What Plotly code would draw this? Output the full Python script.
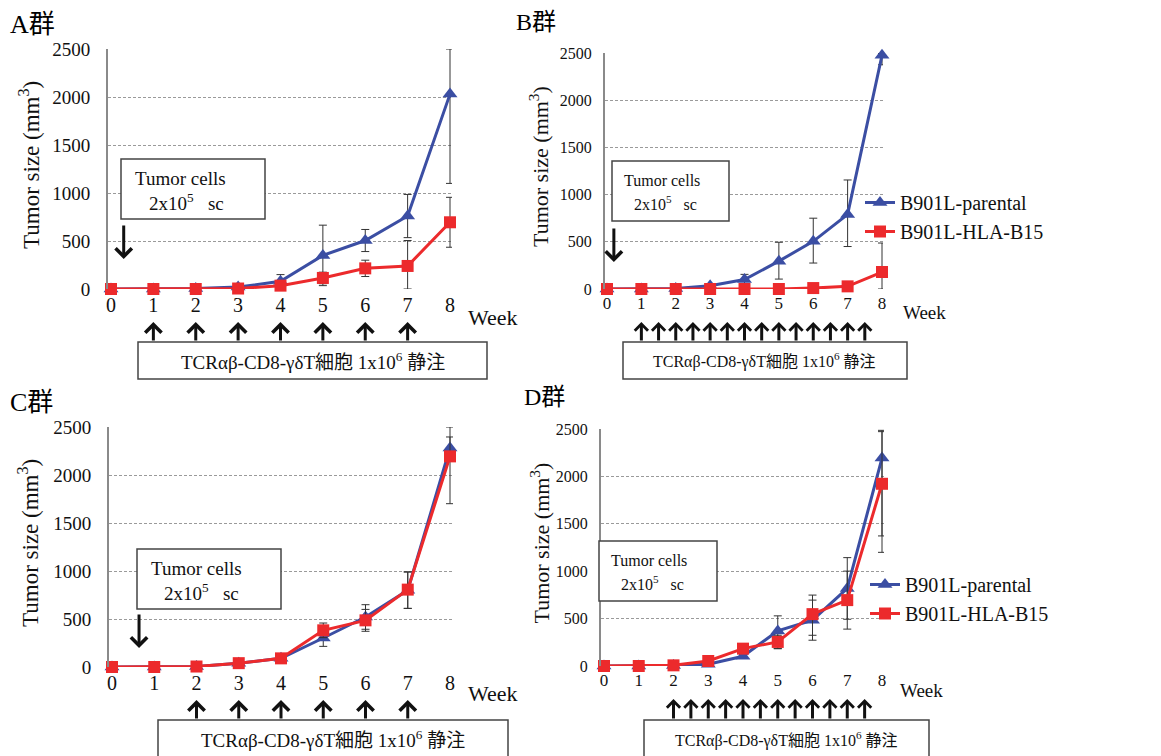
import plotly.graph_objects as go

W, H = 1161, 756
FONT = "Liberation Serif, Noto Sans CJK JP, serif"

# ---------------- data ----------------
weeks = [0, 1, 2, 3, 4, 5, 6, 7, 8]
yticks = [0, 500, 1000, 1500, 2000, 2500]
series_names = ["B901L-parental", "B901L-HLA-B15"]

# Group A
A_par = [0, 0, 5, 20, 80, 350, 505, 760, 2030]
A_par_up = [0, 0, 0, 10, 70, 315, 115, 225, 470]
A_par_dn = [0, 0, 0, 10, 70, 315, 115, 225, 930]
A_hla = [0, 0, 0, 5, 35, 115, 215, 240, 695]
A_hla_up = [0, 0, 0, 0, 10, 60, 85, 265, 260]
A_hla_dn = [0, 0, 0, 0, 10, 60, 85, 240, 260]

# Group B
B_par = [0, 0, 5, 35, 100, 295, 505, 790, 2475]
B_par_up = [0, 0, 0, 10, 55, 200, 245, 365, 20]
B_par_dn = [0, 0, 0, 10, 55, 190, 230, 340, 100]
B_hla = [0, 0, 0, 0, 0, 0, 10, 28, 180]
B_hla_up = [0, 0, 0, 0, 0, 0, 5, 10, 307]
B_hla_dn = [0, 0, 0, 0, 0, 0, 5, 10, 180]

# Group C
C_par = [0, 0, 5, 40, 90, 302, 521, 800, 2281]
C_par_up = [0, 0, 0, 10, 15, 87, 128, 190, 115]
C_par_dn = [0, 0, 0, 10, 15, 87, 128, 190, 115]
C_hla = [0, 0, 5, 40, 90, 382, 486, 806, 2194]
C_hla_up = [0, 0, 0, 10, 15, 76, 114, 184, 306]
C_hla_dn = [0, 0, 0, 10, 15, 76, 114, 195, 493]

# Group D
D_par = [0, 0, 5, 18, 102, 370, 483, 818, 2193]
D_par_up = [0, 0, 0, 10, 20, 159, 265, 325, 293]
D_par_dn = [0, 0, 0, 10, 20, 187, 211, 325, 994]
D_hla = [0, 0, 7, 53, 183, 254, 547, 695, 1922]
D_hla_up = [0, 0, 0, 10, 20, 70, 148, 306, 550]
D_hla_dn = [0, 0, 0, 10, 20, 71, 223, 306, 550]

# injection schedules (weeks)
A_inj = [1, 2, 3, 4, 5, 6, 7]
B_inj = [1, 1.5, 2, 2.5, 3, 3.5, 4, 4.5, 5, 5.5, 6, 6.5, 7, 7.5]
C_inj = [2, 3, 4, 5, 6, 7]
D_inj = [2, 2.5, 3, 3.5, 4, 4.5, 5, 5.5, 6, 6.5, 7, 7.5]
tumor_week = {"A": 0.3, "B": 0.2, "C": 0.64, "D": None}

group_labels = ["A群", "B群", "C群", "D群"]
tumor_line1 = "Tumor cells"
tumor_line2 = "2x10<sup>5</sup>\u00a0\u00a0\u00a0sc"
tcr_text = "TCRαβ-CD8-γδT細胞 1x10<sup>6</sup> 静注"
ytitle = "Tumor size (mm<sup>3</sup>)"

BLUE = "#3B4EA3"
RED = "#EC2A2C"

# ---------------- layout geometry (pixels) ----------------
panels = [
    dict(key="A", ax="", left=108, right=452, top=49, bottom=289, x0=111, x8=450, big=True,
         par=(A_par, A_par_up, A_par_dn), hla=(A_hla, A_hla_up, A_hla_dn), inj=A_inj,
         title=(8, 24), ytit=29, week=(466, 317),
         tbox=(121, 159, 265, 219), t1=(133, 178), t2=(147, 202), tarrow=(224, 259),
         arr=(322, 342), tcr=(138, 342, 487, 379), legend=None),
    dict(key="B", ax="2", left=605, right=883, top=53, bottom=289, x0=607, x8=882, big=False,
         par=(B_par, B_par_up, B_par_dn), hla=(B_hla, B_hla_up, B_hla_dn), inj=B_inj,
         title=(514, 22), ytit=539, week=(901, 313),
         tbox=(612, 161, 729, 221), t1=(622, 180), t2=(632, 203), tarrow=(227, 262),
         arr=(322, 342), tcr=(623, 342, 907, 379), legend=("legend", 860, 183)),
    dict(key="C", ax="3", left=109, right=453, top=427, bottom=667, x0=112, x8=450, big=True,
         par=(C_par, C_par_up, C_par_dn), hla=(C_hla, C_hla_up, C_hla_dn), inj=C_inj,
         title=(8, 403), ytit=28, week=(466, 693),
         tbox=(137, 549, 281, 609), t1=(149, 568), t2=(162, 592), tarrow=(613, 648),
         arr=(700, 720), tcr=(158, 720, 508, 770), legend=None),
    dict(key="D", ax="4", left=601, right=884, top=429, bottom=666, x0=604, x8=882, big=False,
         par=(D_par, D_par_up, D_par_dn), hla=(D_hla, D_hla_up, D_hla_dn), inj=D_inj,
         title=(522, 397), ytit=539, week=(898, 690),
         tbox=(599, 541, 717, 601), t1=(609, 560), t2=(619, 583), tarrow=None,
         arr=(699, 720), tcr=(644, 720, 929, 770), legend=("legend2", 865, 565)),
]


def fx(p):
    return p / W


def fy(p):
    return 1 - p / H


fig = go.Figure()
annotations = []
shapes = []
layout = {}

for p in panels:
    a = p["ax"]
    xname, yname = "x" + a, "y" + a
    big = p["big"]
    tick_fs = 19 if big else 16
    xtick_fs = 20 if big else 17
    txt_fs = 19 if big else 16
    arrow_sz = 1.05 if big else 0.85
    s = (p["x8"] - p["x0"]) / 8.0
    lo = (p["left"] - p["x0"]) / s
    hi = 8 + (p["right"] - p["x8"]) / s

    layout["xaxis" + a] = dict(
        domain=[fx(p["left"]), fx(p["right"])], range=[lo, hi], anchor=yname,
        automargin=False,
        showline=False, showgrid=False, zeroline=False, tickvals=weeks, ticks="",
        tickfont=dict(family=FONT, size=xtick_fs, color="#111"), ticklabelstandoff=2,
    )
    layout["yaxis" + a] = dict(
        domain=[fy(p["bottom"]), fy(p["top"])], range=[0, 2500], anchor=xname,
        automargin=False,
        showline=True, linecolor="#8a8a8a", linewidth=2, showgrid=True,
        gridcolor="#9a9a9a", griddash="3px,2px", gridwidth=1, zeroline=False,
        tickvals=yticks, ticks="", ticklabelstandoff=12 if big else 8,
        tickfont=dict(family=FONT, size=tick_fs, color="#111"),
    )

    leg = p["legend"]
    for (vals, up, dn), name, color, sym, msize in [
        (p["par"], series_names[0], BLUE, "triangle-up", 13),
        (p["hla"], series_names[1], RED, "square", 12),
    ]:
        fig.add_trace(go.Scatter(
            x=weeks, y=vals, name=name, mode="lines+markers", xaxis=xname, yaxis=yname,
            line=dict(color=color, width=3), cliponaxis=False,
            marker=dict(symbol=sym, size=msize, color=color),
            error_y=dict(type="data", array=up, arrayminus=dn, symmetric=False,
                         color="#333333", thickness=1, width=4),
            showlegend=leg is not None, legend=leg[0] if leg else "legend",
        ))
    if leg:
        layout[leg[0]] = dict(
            x=fx(leg[1]), y=fy(leg[2]), xanchor="left", yanchor="top",
            bgcolor="rgba(0,0,0,0)", font=dict(family=FONT, size=20, color="#111"),
            tracegroupgap=0, itemwidth=30,
        )

    # panel title
    annotations.append(dict(
        text=group_labels["ABCD".index(p["key"])], x=fx(p["title"][0]), y=fy(p["title"][1]),
        xref="paper", yref="paper", xanchor="left", yanchor="middle", showarrow=False,
        font=dict(family=FONT, size=26 if big else 24, color="#000")))
    # y title
    annotations.append(dict(
        text=ytitle, x=fx(p["ytit"]), y=fy((p["top"] + p["bottom"]) / 2 - 4),
        xref="paper", yref="paper", xanchor="center", yanchor="middle", textangle=-90,
        showarrow=False, font=dict(family=FONT, size=23 if big else 22, color="#111")))
    # Week
    annotations.append(dict(
        text="Week", x=fx(p["week"][0]), y=fy(p["week"][1]), xref="paper", yref="paper",
        xanchor="left", yanchor="middle", showarrow=False,
        font=dict(family=FONT, size=22 if big else 19, color="#111")))
    # tumor cell box
    x0b, y0b, x1b, y1b = p["tbox"]
    shapes.append(dict(type="rect", xref="paper", yref="paper", x0=fx(x0b), x1=fx(x1b),
                       y0=fy(y1b), y1=fy(y0b), line=dict(color="#444", width=1.5),
                       fillcolor="white", layer="above"))
    annotations.append(dict(
        text=tumor_line1, x=fx(p["t1"][0]), y=fy(p["t1"][1]), xref="paper", yref="paper",
        xanchor="left", yanchor="middle", showarrow=False,
        font=dict(family=FONT, size=txt_fs, color="#111")))
    annotations.append(dict(
        text=tumor_line2, x=fx(p["t2"][0]), y=fy(p["t2"][1]), xref="paper", yref="paper",
        xanchor="left", yanchor="middle", showarrow=False,
        font=dict(family=FONT, size=txt_fs, color="#111")))
    # tumor arrow
    tw = tumor_week[p["key"]]
    if tw is not None:
        ya, yb = p["tarrow"]
        annotations.append(dict(
            text="", x=tw, y=fy(yb), xref=xname, yref="paper", ax=0, ay=-(yb - ya),
            showarrow=True, arrowhead=4, arrowsize=1.05, arrowwidth=3, arrowcolor="#111"))
    # injection arrows
    ta, tb = p["arr"]
    for wk in p["inj"]:
        annotations.append(dict(
            text="", x=wk, y=fy(ta), xref=xname, yref="paper", ax=0, ay=(tb - ta),
            showarrow=True, arrowhead=4, arrowsize=arrow_sz, arrowwidth=3, arrowcolor="#111"))
    # TCR box
    x0b, y0b, x1b, y1b = p["tcr"]
    shapes.append(dict(type="rect", xref="paper", yref="paper", x0=fx(x0b), x1=fx(x1b),
                       y0=fy(y1b), y1=fy(y0b), line=dict(color="#444", width=1.5),
                       fillcolor="white", layer="above"))
    annotations.append(dict(
        text=tcr_text, x=fx((x0b + x1b) / 2), y=fy(y0b + 19), xref="paper", yref="paper",
        xanchor="center", yanchor="middle", showarrow=False,
        font=dict(family=FONT, size=19 if big else 16, color="#111")))

fig.update_layout(
    width=W, height=H, margin=dict(l=0, r=0, t=0, b=0, autoexpand=False),
    paper_bgcolor="white", plot_bgcolor="white",
    annotations=annotations, shapes=shapes, **layout,
)

fig.write_html("out.html", config={"displayModeBar": False},
               post_script="document.body.style.margin='0px';")
